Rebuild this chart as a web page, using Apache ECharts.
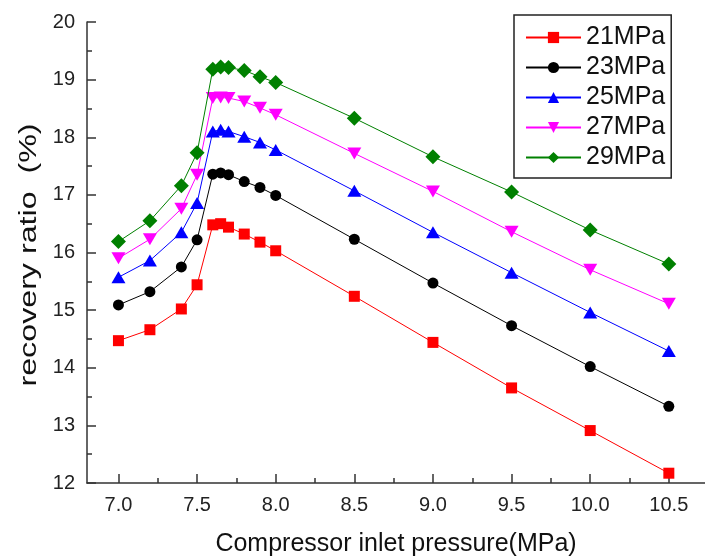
<!DOCTYPE html>
<html>
<head>
<meta charset="utf-8">
<script src="https://cdn.jsdelivr.net/npm/echarts@6/dist/echarts.min.js"></script>
<style>html,body{margin:0;padding:0;background:#fff}#c{width:705px;height:558px}</style>
</head>
<body>
<div id="c"></div>
<script>
const xValues = [7.0, 7.2, 7.4, 7.5, 7.6, 7.65, 7.7, 7.8, 7.9, 8.0, 8.5, 9.0, 9.5, 10.0, 10.5];
const s21 = [14.47, 14.66, 15.02, 15.44, 16.48, 16.50, 16.44, 16.32, 16.18, 16.03, 15.24, 14.44, 13.65, 12.91, 12.17];
const s23 = [15.09, 15.32, 15.75, 16.22, 17.36, 17.38, 17.35, 17.23, 17.13, 16.99, 16.23, 15.47, 14.73, 14.02, 13.33];
const s25 = [15.57, 15.86, 16.35, 16.86, 18.10, 18.13, 18.10, 18.01, 17.91, 17.78, 17.07, 16.35, 15.65, 14.96, 14.29];
const s27 = [15.90, 16.23, 16.76, 17.35, 18.68, 18.69, 18.68, 18.62, 18.51, 18.39, 17.72, 17.06, 16.36, 15.70, 15.11];
const s29 = [16.19, 16.55, 17.16, 17.73, 19.18, 19.22, 19.21, 19.16, 19.05, 18.95, 18.33, 17.66, 17.05, 16.39, 15.80];
const seriesNames = ['21MPa', '23MPa', '25MPa', '27MPa', '29MPa'];
const xTickValues = [7.0, 7.5, 8.0, 8.5, 9.0, 9.5, 10.0, 10.5];
const xTickLabels = ['7.0', '7.5', '8.0', '8.5', '9.0', '9.5', '10.0', '10.5'];
const xMinorTicks = [7.25, 7.75, 8.25, 8.75, 9.25, 9.75, 10.25];
const xTitle = 'Compressor inlet pressure(MPa)';
const yTitle = 'recovery ratio  (%)';

const allData = [s21, s23, s25, s27, s29];
const colors = ['#ff0000', '#000000', '#0000ff', '#ff00ff', '#008000'];
const symbols = ['rect', 'circle', 'triangle', 'triangle', 'diamond'];
const symbolSizes = [11, 11, [14, 12], [14, 12], [15, 15]];
const symbolRotates = [0, 0, 0, 180, 0];

const FONT = 'Liberation Sans, Arial, sans-serif';
const chart = echarts.init(document.getElementById('c'), null, {renderer: 'canvas'});

const series = allData.map((d, i) => ({
  name: seriesNames[i],
  type: 'line',
  data: xValues.map((x, j) => [x, d[j]]),
  symbol: symbols[i],
  symbolSize: symbolSizes[i],
  symbolRotate: symbolRotates[i],
  showAllSymbol: true,
  color: colors[i],
  itemStyle: {color: colors[i]},
  lineStyle: {color: colors[i], width: 1},
  emphasis: {disabled: true},
  animation: false,
  z: 3 + i
}));

chart.setOption({
  backgroundColor: '#fff',
  animation: false,
  grid: {left: 87, right: 0, top: 22, bottom: 75, containLabel: false, outerBoundsMode: 'none'},
  legend: {
    orient: 'vertical',
    left: 514,
    top: 15,
    padding: [10, 6, 8, 11],
    itemGap: 5,
    itemWidth: 55,
    itemHeight: 14,
    borderColor: '#222',
    borderWidth: 1.5,
    data: seriesNames,
    textStyle: {fontFamily: FONT, fontSize: 25, color: '#111', lineHeight: 25}
  },
  graphic: [{
    type: 'text',
    x: 30,
    y: 255,
    rotation: Math.PI / 2,
    scaleX: 1.4,
    style: {
      text: yTitle,
      fontFamily: FONT,
      fontSize: 23,
      fill: '#111',
      textAlign: 'center',
      textVerticalAlign: 'middle'
    }
  }],
  xAxis: [{
    type: 'value',
    min: 6.8,
    max: 10.73,
    name: xTitle,
    nameLocation: 'middle',
    nameGap: 49,
    nameTextStyle: {fontFamily: FONT, fontSize: 25, color: '#111'},
    axisLine: {show: true, lineStyle: {color: '#333', width: 1.5}},
    axisTick: {show: true, inside: true, length: 9, customValues: xTickValues, lineStyle: {color: '#333', width: 1.5}},
    axisLabel: {
      show: true, margin: 12, fontFamily: FONT, fontSize: 20, color: '#222',
      customValues: xTickValues,
      formatter: v => xTickLabels[xTickValues.findIndex(t => Math.abs(t - v) < 1e-6)]
    },
    splitLine: {show: false}
  }, {
    type: 'value',
    min: 6.8,
    max: 10.73,
    position: 'bottom',
    axisLine: {show: false},
    axisTick: {show: true, inside: true, length: 5, customValues: xMinorTicks, lineStyle: {color: '#333', width: 1.5}},
    axisLabel: {show: false},
    splitLine: {show: false}
  }],
  yAxis: {
    type: 'value',
    min: 12,
    max: 20,
    interval: 1,
    axisLine: {show: true, lineStyle: {color: '#333', width: 1.5}},
    axisTick: {show: true, inside: true, length: 9, lineStyle: {color: '#333', width: 1.5}},
    minorTick: {show: true, splitNumber: 2, length: 5, lineStyle: {color: '#333', width: 1.5}},
    axisLabel: {margin: 12, fontFamily: FONT, fontSize: 20, color: '#222'},
    splitLine: {show: false}
  },
  series: series
});
</script>
</body>
</html>
